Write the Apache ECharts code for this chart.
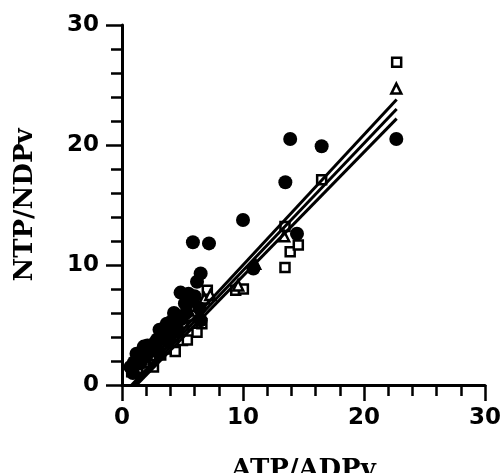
<!DOCTYPE html>
<html>
<head>
<meta charset="utf-8">
<script src="https://cdn.jsdelivr.net/npm/echarts@6/dist/echarts.min.js"></script>
<style>
html,body{margin:0;padding:0;background:#fff;}
#chart{width:502px;height:473px;}
</style>
</head>
<body>
<div id="chart"></div>
<script>
// Tick labels
const xTicks = [0, 10, 20, 30];
const yTicks = [0, 10, 20, 30];

// Filled circles [ATP/ADPv, NTP/NDPv]
const circles = [
  [0.7,1.5],[0.9,1.0],[1.0,1.9],[1.2,2.6],[1.4,2.2],[1.5,1.8],[1.8,3.2],[2.0,2.4],
  [2.1,3.3],[2.3,3.0],[2.5,2.9],[2.7,3.5],[2.9,3.8],[3.0,2.8],[3.1,4.6],[3.3,4.3],
  [3.5,4.75],[3.7,5.1],[3.8,3.6],[4.0,4.3],[4.1,5.3],[4.3,6.0],[4.4,5.8],[4.6,4.6],
  [4.84,7.7],[4.9,5.5],[5.2,6.8],[5.3,6.0],[5.5,7.6],[5.7,7.0],[5.86,11.9],[6.0,7.4],
  [6.2,8.6],[6.4,6.4],[6.5,9.3],[6.5,5.4],[7.19,11.8],[10.0,13.75],[10.86,9.7],
  [13.5,16.9],[13.9,20.5],[14.46,12.6],[16.5,19.9],[22.67,20.5]
];
// Open squares
const squares = [
  [0.8,1.1],[1.3,1.4],[1.9,1.9],[2.2,2.6],[2.6,1.5],[3.2,2.5],[3.8,3.0],[4.0,4.0],
  [4.4,2.8],[5.0,3.7],[5.4,3.75],[5.8,5.0],[6.2,4.4],[6.6,5.1],[7.05,7.9],[9.4,7.9],
  [10.03,8.0],[13.47,9.8],[13.9,11.1],[14.57,11.67],[13.47,13.2],[16.5,17.1],[22.7,26.9]
];
// Open triangles
const triangles = [
  [1.0,1.3],[1.6,2.2],[2.4,2.5],[3.0,3.4],[3.6,4.2],[4.2,4.6],[4.8,5.6],[5.5,6.2],
  [6.0,6.6],[6.8,7.2],[7.3,7.5],[9.6,8.3],[11.0,10.1],[13.4,12.4],[22.67,24.7]
];
// Regression lines (end points)
const lineUpper = [[0.8,0],[22.7,23.8]];
const lineMiddle = [[1.0,0],[22.7,23.0]];
const lineLower = [[1.2,0],[22.7,22.2]];

const chart = echarts.init(document.getElementById('chart'), null, {renderer:'canvas'});
const tickFont = {fontFamily:'DejaVu Sans', fontWeight:'bold', fontSize:23, color:'#000'};
const nameFont = {fontFamily:'DejaVu Serif', fontWeight:'bold', fontSize:26, color:'#000'};
const axisCommon = {
  min: 0, max: 30, interval: 10,
  axisLine: {show:true, onZero:false, lineStyle:{color:'#000', width:3}},
  axisTick: {show:true, length:16, lineStyle:{color:'#000', width:2.5}},
  minorTick: {show:true, splitNumber:5, length:11, lineStyle:{color:'#000', width:2.5}},
  splitLine: {show:false},
  nameLocation: 'middle',
  nameTextStyle: nameFont
};
const openStyle = {color:'#fff', borderColor:'#000', borderWidth:2.5, opacity:1};
chart.setOption({
  animation: false,
  backgroundColor: '#fff',
  grid: {left:122, right:17, top:25, bottom:88, containLabel:false, outerBoundsMode:'none'},
  xAxis: Object.assign({}, axisCommon, {
    type:'value', name:'ATP/ADPv', nameGap:72,
    axisLabel: Object.assign({margin:22, formatter: v => xTicks.includes(v) ? String(v) : ''}, tickFont)
  }),
  yAxis: Object.assign({}, axisCommon, {
    type:'value', name:'NTP/NDPv', nameGap:84,
    axisLabel: Object.assign({margin:23, formatter: v => yTicks.includes(v) ? String(v) : ''}, tickFont)
  }),
  series: [
    {type:'scatter', data:squares, symbol:'rect', symbolSize:9, itemStyle:openStyle, z:2},
    {type:'scatter', data:triangles, symbol:'triangle', symbolSize:10, itemStyle:openStyle, z:2},
    {type:'scatter', data:circles, symbol:'circle', symbolSize:14, itemStyle:{color:'#000', opacity:1}, z:3},
    {type:'line', data:lineUpper, showSymbol:false, symbol:'none', lineStyle:{color:'#000', width:3}, z:4},
    {type:'line', data:lineMiddle, showSymbol:false, symbol:'none', lineStyle:{color:'#000', width:3}, z:4},
    {type:'line', data:lineLower, showSymbol:false, symbol:'none', lineStyle:{color:'#000', width:3}, z:4}
  ]
});
</script>
</body>
</html>
